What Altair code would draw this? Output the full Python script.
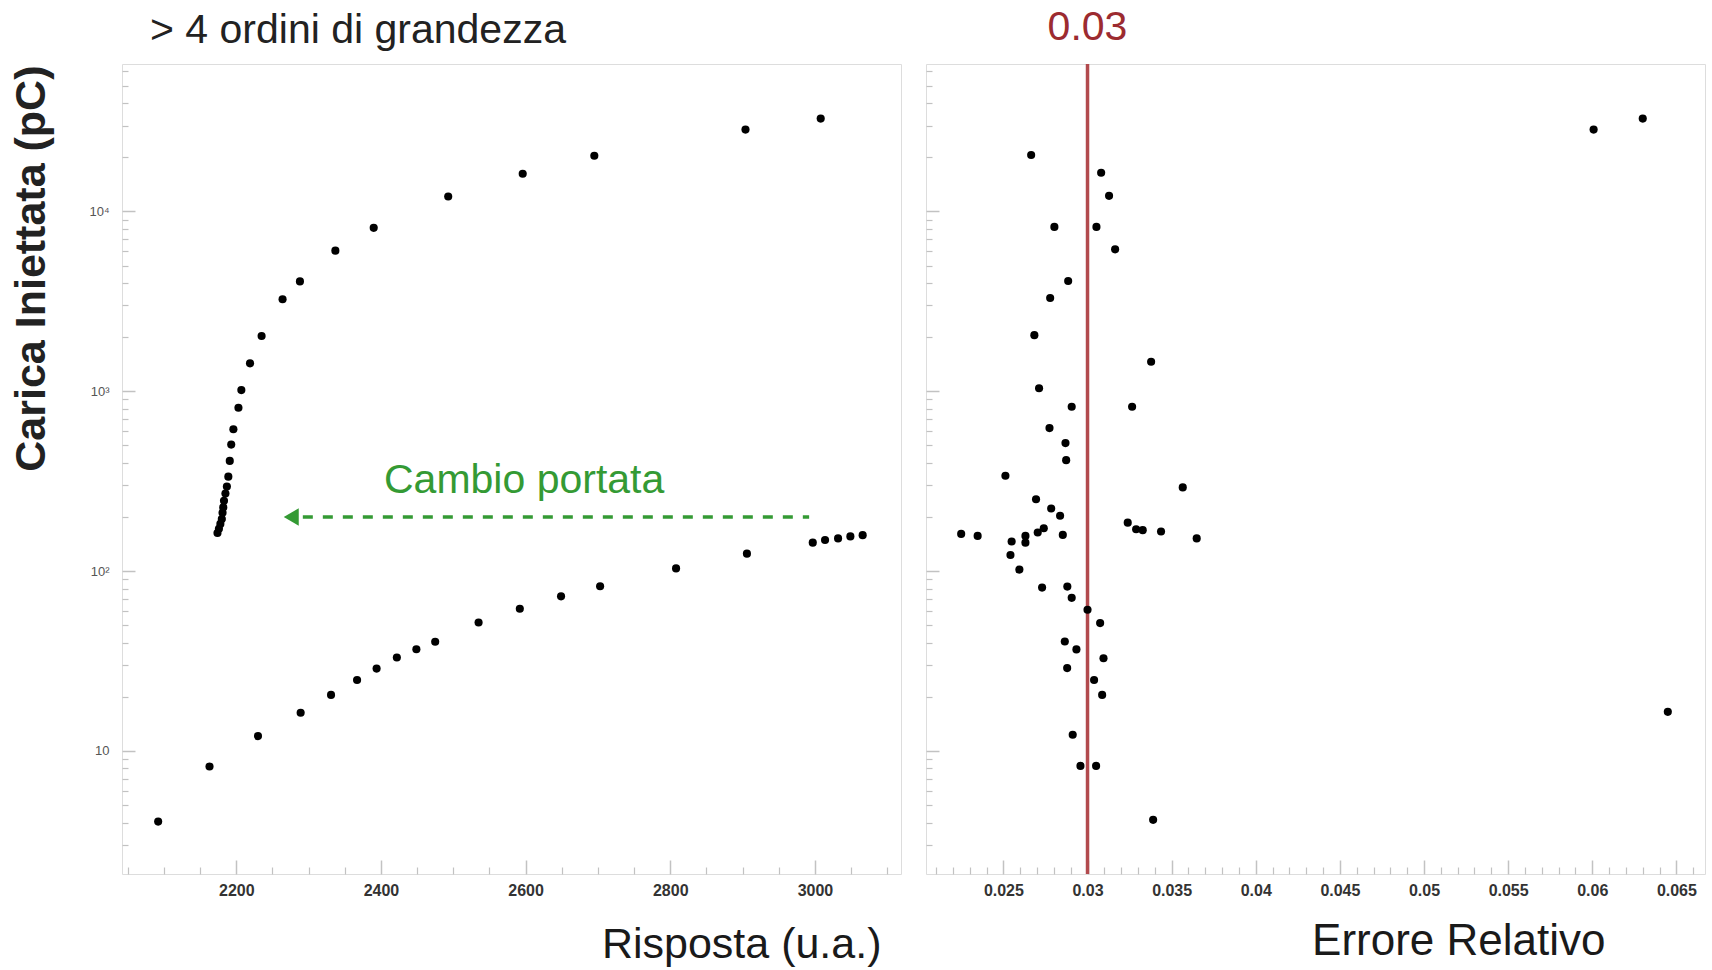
import altair as alt
import pandas as pd

# ---------------- data ----------------
# left panel: upper branch (range 1) and lower branch (range 2)
risposta_alta = [3008, 2904, 2695, 2596, 2493, 2390, 2337, 2288, 2264, 2235, 2219, 2207, 2203,
                 2196, 2193, 2191, 2189, 2187, 2185, 2183, 2182, 2181, 2180, 2178, 2176, 2174]
carica_alta = [32800, 28500, 20400, 16200, 12100, 8100, 6050, 4080, 3250, 2030, 1430, 1015, 810,
               615, 505, 410, 335, 295, 270, 246, 226, 211, 195, 183, 172, 163]
risposta_bassa = [2092, 2163, 2230, 2289, 2331, 2367, 2394, 2422, 2449, 2475, 2535, 2592, 2649,
                  2703, 2808, 2906, 2997, 3014, 3032, 3049, 3066]
carica_bassa = [4.05, 8.2, 12.1, 16.3, 20.5, 24.8, 28.7, 33.1, 36.8, 40.5, 51.8, 61.8, 72.4,
                82.4, 103.5, 125, 144, 149, 152, 156, 158.5]

# right panel: relative error vs injected charge
errore = [0.02665, 0.03081, 0.03128, 0.02803, 0.03053, 0.03164, 0.02885, 0.02778, 0.02684,
          0.03378, 0.02712, 0.02906, 0.03265, 0.02774, 0.02869, 0.02873, 0.02512, 0.03566,
          0.02694, 0.02784, 0.02837, 0.03239, 0.03289, 0.03328, 0.03437, 0.03649, 0.02249,
          0.02347, 0.02853, 0.02740, 0.02704, 0.02631, 0.02631, 0.02549, 0.02542, 0.02595,
          0.02730, 0.02880, 0.02906, 0.03000, 0.03075, 0.02865, 0.02934, 0.03095, 0.02879,
          0.03039, 0.03087, 0.02912, 0.02958, 0.03051, 0.03390, 0.06008, 0.06300, 0.06449]
carica_err = [20600, 16400, 12200, 8200, 8200, 6150, 4100, 3300, 2050,
              1460, 1040, 820, 820, 624, 515, 414, 339, 292,
              251, 223, 203, 186, 171, 169, 166, 152, 161,
              157, 159, 173, 164, 157, 144, 146, 123, 102,
              81, 82, 71, 61, 51.4, 40.6, 36.7, 32.8, 28.9,
              24.8, 20.5, 12.3, 8.26, 8.26, 4.14, 28500, 32800, 16.5]

# annotations
freccia_x = [2992, 2292]
freccia_y = [200, 200]
punta_x = [2276]
punta_y = [200]
testo_cambio = ["Cambio portata"]
testo_cambio_x = [2598]
testo_cambio_y = [316]
soglia = [0.03]
soglia_label = ["0.03"]

# axis tick values and labels
y_major = [10, 100, 1000, 10000]
y_minor = [3, 4, 5, 6, 7, 8, 9, 20, 30, 40, 50, 60, 70, 80, 90,
           200, 300, 400, 500, 600, 700, 800, 900,
           2000, 3000, 4000, 5000, 6000, 7000, 8000, 9000,
           20000, 30000, 40000, 50000, 60000]
xl_major = [2200, 2400, 2600, 2800, 3000]
xl_minor = [2050, 2100, 2150, 2250, 2300, 2350, 2450, 2500, 2550, 2650, 2700, 2750,
            2850, 2900, 2950, 3050, 3100]
xr_major = [0.025, 0.03, 0.035, 0.04, 0.045, 0.05, 0.055, 0.06, 0.065]
xr_minor = [0.021, 0.022, 0.023, 0.024, 0.026, 0.027, 0.028, 0.029, 0.031, 0.032, 0.033,
            0.034, 0.036, 0.037, 0.038, 0.039, 0.041, 0.042, 0.043, 0.044, 0.046, 0.047,
            0.048, 0.049, 0.051, 0.052, 0.053, 0.054, 0.056, 0.057, 0.058, 0.059, 0.061,
            0.062, 0.063, 0.064, 0.066]

# ---------------- tables ----------------
left_df = pd.DataFrame({
    "risposta": risposta_alta + risposta_bassa,
    "carica": carica_alta + carica_bassa,
})
right_df = pd.DataFrame({"errore": errore, "carica": carica_err})
arrow_df = pd.DataFrame({"risposta": freccia_x, "carica": freccia_y})
head_df = pd.DataFrame({"risposta": punta_x, "carica": punta_y})
cambio_df = pd.DataFrame({"risposta": testo_cambio_x, "carica": testo_cambio_y, "t": testo_cambio})
soglia_df = pd.DataFrame({"errore": soglia, "t": soglia_label})

# ---------------- styling ----------------
W, H = 779, 810
FONT = "Liberation Sans"
TICK_COL = "#c2c2c2"
GREEN = "#349a34"
RED_LINE = "#b24a4e"
RED_TEXT = "#9c2b30"
DOT = 66

y_scale = alt.Scale(type="log", domain=[2.07, 66000], nice=False)
xl_scale = alt.Scale(domain=[2042, 3119], nice=False, zero=False)
xr_scale = alt.Scale(domain=[0.0204, 0.0667], nice=False, zero=False)

ylabel_expr = ("datum.value == 10 ? '10' : datum.value == 100 ? '10\u00b2' : "
               "datum.value == 1000 ? '10\u00b3' : '10\u2074'")


def major_y(with_labels):
    kw = dict(values=y_major, orient="left", tickSize=13, offset=-13, domain=False, grid=False,
              tickColor=TICK_COL, tickWidth=1.5, labels=with_labels)
    if with_labels:
        kw.update(labelExpr=ylabel_expr, labelFontSize=13, labelColor="#555", labelPadding=13,
                  labelFont=FONT, title="Carica Iniettata (pC)", titleFont=FONT,
                  titleFontSize=43, titleFontWeight="bold", titleColor="#222",
                  titleX=-104, titleY=1, titleAlign="right", titleAngle=270,
                  titleBaseline="middle")
    else:
        kw.update(title=None)
    return alt.Axis(**kw)


def minor_y():
    return alt.Axis(values=y_minor, orient="left", tickSize=6, offset=-6, domain=False,
                    grid=False, tickColor=TICK_COL, tickWidth=1.2, labels=False, title=None)


def major_x(values, fmt, title, title_x, title_y, title_size):
    return alt.Axis(values=values, format=fmt, orient="bottom", tickSize=14, offset=-14,
                    domain=False, grid=False, tickColor=TICK_COL, tickWidth=1.5,
                    labelFontSize=16, labelColor="#333", labelFont=FONT, labelFontWeight="bold",
                    labelPadding=8, title=title, titleFont=FONT, titleFontSize=title_size,
                    titleFontWeight="normal", titleColor="#1a1a1a", titleX=title_x,
                    titleY=title_y, titleAlign="right", titleBaseline="alphabetic")


def minor_x(values):
    return alt.Axis(values=values, orient="bottom", tickSize=7, offset=-7, domain=False,
                    grid=False, tickColor=TICK_COL, tickWidth=1.2, labels=False, title=None)


# ---------------- left panel ----------------
left_pts = alt.Chart(left_df).mark_circle(size=DOT, color="black", opacity=1).encode(
    x=alt.X("risposta:Q", scale=xl_scale,
            axis=major_x(xl_major, "d", "Risposta (u.a.)", W - 20, 97, 43)),
    y=alt.Y("carica:Q", scale=y_scale, axis=major_y(True)),
)
left_minor = alt.Chart(left_df).mark_circle(opacity=0).encode(
    x=alt.X("risposta:Q", scale=xl_scale, axis=minor_x(xl_minor)),
    y=alt.Y("carica:Q", scale=y_scale, axis=minor_y()),
)
arrow_line = alt.Chart(arrow_df).mark_line(color=GREEN, strokeWidth=3.5,
                                           strokeDash=[10, 10]).encode(
    x=alt.X("risposta:Q", scale=xl_scale, axis=None),
    y=alt.Y("carica:Q", scale=y_scale, axis=None),
)
arrow_head = alt.Chart(head_df).mark_point(shape="triangle-left", filled=True, size=300,
                                           color=GREEN, opacity=1).encode(
    x=alt.X("risposta:Q", scale=xl_scale, axis=None),
    y=alt.Y("carica:Q", scale=y_scale, axis=None),
)
cambio_txt = alt.Chart(cambio_df).mark_text(font=FONT, fontSize=41, color=GREEN,
                                            align="center", baseline="middle").encode(
    x=alt.X("risposta:Q", scale=xl_scale, axis=None),
    y=alt.Y("carica:Q", scale=y_scale, axis=None),
    text="t:N",
)

left = alt.layer(left_pts, left_minor, arrow_line, arrow_head, cambio_txt).resolve_axis(
    x="independent", y="independent"
).properties(
    width=W, height=H,
    title=alt.TitleParams("> 4 ordini di grandezza", anchor="start", frame="group", dx=28,
                          offset=12, font=FONT, fontSize=41, fontWeight="normal",
                          color="#222"),
)

# ---------------- right panel ----------------
right_pts = alt.Chart(right_df).mark_circle(size=DOT, color="black", opacity=1).encode(
    x=alt.X("errore:Q", scale=xr_scale,
            axis=major_x(xr_major, "~g", "Errore Relativo", 679, 94, 44)),
    y=alt.Y("carica:Q", scale=y_scale, axis=major_y(False)),
)
right_minor = alt.Chart(right_df).mark_circle(opacity=0).encode(
    x=alt.X("errore:Q", scale=xr_scale, axis=minor_x(xr_minor)),
    y=alt.Y("carica:Q", scale=y_scale, axis=minor_y()),
)
soglia_rule = alt.Chart(soglia_df).mark_rule(color=RED_LINE, strokeWidth=3.5).encode(
    x=alt.X("errore:Q", scale=xr_scale, axis=None),
)
soglia_txt = alt.Chart(soglia_df).mark_text(font=FONT, fontSize=41, color=RED_TEXT,
                                            align="center", baseline="middle").encode(
    x=alt.X("errore:Q", scale=xr_scale, axis=None),
    y=alt.value(-36),
    text="t:N",
)

right = alt.layer(right_minor, soglia_rule, right_pts, soglia_txt).resolve_axis(
    x="independent", y="independent"
).properties(width=W, height=H)

chart = alt.hconcat(left, right, spacing=22).properties(
    padding={"left": 9, "top": 6, "right": 2, "bottom": 0},
    background="white",
).configure_view(
    stroke="#cfcfcf", strokeWidth=3
).configure(font=FONT)

chart.save("out.html", embed_options={"renderer": "svg", "actions": False})
